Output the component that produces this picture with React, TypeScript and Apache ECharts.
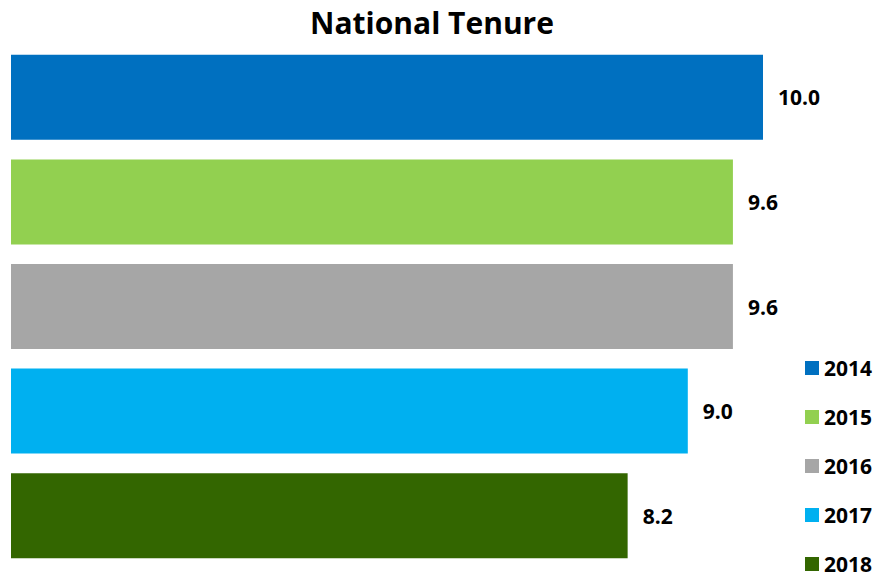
import React, { useEffect, useRef } from "react";
import * as echarts from "echarts";

const title = "National Tenure";
const years = ["2014", "2015", "2016", "2017", "2018"];
const values = [10.0, 9.6, 9.6, 9.0, 8.2];
const colors = ["#0070C0", "#92D050", "#A6A6A6", "#00B0F0", "#336600"];

const FONT = "'Open Sans', sans-serif";

export default function App() {
  const ref = useRef<HTMLDivElement>(null);
  useEffect(() => {
    if (!ref.current) return;
    const chart = echarts.init(ref.current, null, { renderer: "svg" });
    const series = years.map((y, i) => ({
      name: y,
      type: "bar",
      stack: "all",
      barWidth: 85,
      data: years.map((_, j) => (j === i ? values[i] : "-")),
      itemStyle: { color: colors[i] },
      label: {
        show: true,
        position: "right",
        distance: 15,
        color: "#000",
        fontWeight: "bold",
        fontSize: 21,
        fontFamily: FONT,
        formatter: (p: any) => Number(p.value).toFixed(1),
      },
    }));
    chart.setOption({
      animation: false,
      title: {
        text: title,
        left: 432,
        textAlign: "center",
        top: 7,
        padding: 0,
        textStyle: { fontSize: 30, fontWeight: "bold", color: "#000", fontFamily: FONT },
      },
      legend: {
        data: years,
        orient: "vertical",
        left: 805,
        top: 357,
        height: 222,
        width: 73,
        padding: 0,
        itemWidth: 14,
        itemHeight: 14,
        itemGap: 27,
        icon: "rect",
        textStyle: { fontSize: 21, lineHeight: 22, fontWeight: "bold", color: "#000", fontFamily: FONT },
      },
      grid: { left: 11, right: 115, top: 45, bottom: 8, containLabel: false },
      xAxis: { type: "value", min: 0, max: 10, show: false },
      yAxis: { type: "category", data: years, inverse: true, show: false },
      series,
    });
    return () => chart.dispose();
  }, []);
  return (
    <div
      ref={ref}
      style={{ position: "fixed", left: 0, top: 0, width: 878, height: 576, background: "#fff" }}
    />
  );
}
